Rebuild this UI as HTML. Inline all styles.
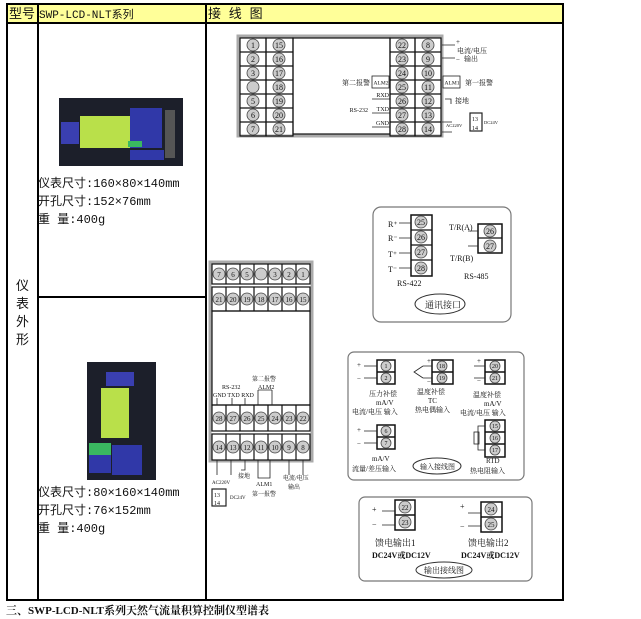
<!DOCTYPE html>
<html><head><meta charset="utf-8"><style>
body{margin:0;background:#fff;width:641px;height:619px;overflow:hidden}
svg{display:block}
text{font-family:"Liberation Serif","Noto Serif CJK SC",serif;fill:#111}
.s{font-family:"Liberation Mono","Noto Sans CJK SC",sans-serif;font-size:12px}
.n{font-size:8px;text-anchor:middle;font-family:"Liberation Sans",sans-serif}
.t{font-size:7px}
.c{fill:#ccc;stroke:#444;stroke-width:.8}
.b{fill:none;stroke:#111;stroke-width:1.2}
</style></head><body>
<svg width="641" height="619" viewBox="0 0 641 619" xmlns="http://www.w3.org/2000/svg">
<rect x="7" y="4" width="556" height="19" fill="#ffff99"/>
<rect x="7" y="4" width="556" height="596" fill="none" stroke="#000" stroke-width="2"/>
<line x1="7" y1="23" x2="563" y2="23" stroke="#000" stroke-width="2"/>
<line x1="38" y1="4" x2="38" y2="600" stroke="#000" stroke-width="2"/>
<line x1="206" y1="4" x2="206" y2="600" stroke="#000" stroke-width="2"/>
<line x1="38" y1="297" x2="206" y2="297" stroke="#000" stroke-width="2"/>
<text x="9" y="18" class="s" style="font-size:13px">型号</text>
<text x="39" y="18" class="s" style="font-size:11px">SWP-LCD-NLT系列</text>
<text x="208" y="18" class="s" style="font-size:13px">接 线 图</text>
<text x="16" y="290" class="s" style="font-size:13px">仪</text>
<text x="16" y="308" class="s" style="font-size:13px">表</text>
<text x="16" y="326" class="s" style="font-size:13px">外</text>
<text x="16" y="344" class="s" style="font-size:13px">形</text>
<rect x="59" y="98" width="124" height="68" fill="#1c1f2a"/>
<rect x="61" y="122" width="18" height="22" fill="#3a3fb0"/>
<rect x="80" y="116" width="50" height="32" fill="#b9e04a"/>
<rect x="130" y="108" width="32" height="40" fill="#3038a8"/>
<rect x="128" y="141" width="14" height="6" fill="#3ab860"/>
<rect x="130" y="150" width="34" height="10" fill="#3038a8"/>
<rect x="165" y="110" width="10" height="48" fill="#555"/>
<text x="38" y="187" class="s">仪表尺寸:160×80×140mm</text>
<text x="38" y="205" class="s">开孔尺寸:152×76mm</text>
<text x="38" y="223" class="s">重 量:400g</text>
<rect x="87" y="362" width="69" height="118" fill="#1c1f2a"/>
<rect x="106" y="372" width="28" height="14" fill="#3a3fb0"/>
<rect x="101" y="388" width="28" height="50" fill="#b9e04a"/>
<rect x="89" y="443" width="22" height="12" fill="#3ab860"/>
<rect x="89" y="455" width="22" height="18" fill="#3038a8"/>
<rect x="112" y="445" width="30" height="30" fill="#3038a8"/>
<text x="38" y="496" class="s">仪表尺寸:80×160×140mm</text>
<text x="38" y="514" class="s">开孔尺寸:76×152mm</text>
<text x="38" y="532" class="s">重 量:400g</text>
<text x="6" y="614" style="font-size:11px;font-weight:bold">三、SWP-LCD-NLT系列天然气流量积算控制仪型谱表</text>

<rect x="238" y="36" width="204" height="100" fill="#fff" stroke="#aaa" stroke-width="3"/>
<g class="b">
<rect x="240" y="38" width="26" height="98"/><rect x="266" y="38" width="27" height="98"/>
<rect x="293" y="38" width="97" height="96"/>
<rect x="390" y="38" width="25" height="98"/><rect x="415" y="38" width="26" height="98"/>
<path d="M240 52H293M240 66H293M240 80H293M240 94H293M240 108H293M240 122H293M390 52H441M390 66H441M390 80H441M390 94H441M390 108H441M390 122H441"/>
</g>
<g class="c">
<circle cx="253" cy="45" r="6"/><circle cx="253" cy="59" r="6"/><circle cx="253" cy="73" r="6"/><circle cx="253" cy="87" r="6"/><circle cx="253" cy="101" r="6"/><circle cx="253" cy="115" r="6"/><circle cx="253" cy="129" r="6"/>
<circle cx="279" cy="45" r="6"/><circle cx="279" cy="59" r="6"/><circle cx="279" cy="73" r="6"/><circle cx="279" cy="87" r="6"/><circle cx="279" cy="101" r="6"/><circle cx="279" cy="115" r="6"/><circle cx="279" cy="129" r="6"/>
<circle cx="402" cy="45" r="6"/><circle cx="402" cy="59" r="6"/><circle cx="402" cy="73" r="6"/><circle cx="402" cy="87" r="6"/><circle cx="402" cy="101" r="6"/><circle cx="402" cy="115" r="6"/><circle cx="402" cy="129" r="6"/>
<circle cx="428" cy="45" r="6"/><circle cx="428" cy="59" r="6"/><circle cx="428" cy="73" r="6"/><circle cx="428" cy="87" r="6"/><circle cx="428" cy="101" r="6"/><circle cx="428" cy="115" r="6"/><circle cx="428" cy="129" r="6"/>
</g>
<g class="n">
<text x="253" y="48">1</text><text x="253" y="62">2</text><text x="253" y="76">3</text><text x="253" y="104">5</text><text x="253" y="118">6</text><text x="253" y="132">7</text>
<text x="279" y="48">15</text><text x="279" y="62">16</text><text x="279" y="76">17</text><text x="279" y="90">18</text><text x="279" y="104">19</text><text x="279" y="118">20</text><text x="279" y="132">21</text>
<text x="402" y="48">22</text><text x="402" y="62">23</text><text x="402" y="76">24</text><text x="402" y="90">25</text><text x="402" y="104">26</text><text x="402" y="118">27</text><text x="402" y="132">28</text>
<text x="428" y="48">8</text><text x="428" y="62">9</text><text x="428" y="76">10</text><text x="428" y="90">11</text><text x="428" y="104">12</text><text x="428" y="118">13</text><text x="428" y="132">14</text>
</g>
<g stroke="#222" stroke-width=".8" fill="none">
<path d="M442 45H455M442 58H455M442 122H452M442 132H452M445 99H451V104M372 99H390M372 113H390M372 127H390"/>
<rect x="372" y="76" width="17" height="12"/><rect x="443" y="76" width="17" height="12"/>
<rect x="470" y="113" width="12" height="18" stroke-width="1.2"/>
</g>
<g class="t">
<text x="456" y="44">+</text><text x="457" y="53">电流/电压</text><text x="464" y="61">输出</text><text x="456" y="62">−</text>
<text x="444.5" y="84.5" style="font-size:5.5px">ALM1</text><text x="465" y="85">第一报警</text>
<text x="373.5" y="84.5" style="font-size:5.5px">ALM2</text><text x="370" y="85" text-anchor="end">第二报警</text>
<text x="455" y="103">接地</text>
<g style="font-size:6px" text-anchor="end"><text x="389" y="97">RXD</text><text x="368" y="112">RS-232</text><text x="389" y="111">TXD</text><text x="389" y="125">GND</text></g>
<text x="446" y="127" style="font-size:4.5px">AC220V</text><text x="484" y="124" style="font-size:4.5px">DC24V</text>
<text x="472" y="121" style="font-size:6px">13</text><text x="472" y="130" style="font-size:6px">14</text>
</g>

<rect x="373" y="207" width="138" height="115" rx="8" fill="none" stroke="#777" stroke-width="1.2"/>
<g class="b"><rect x="411" y="215" width="21" height="61" stroke-width="1.5"/><path d="M411 230H432M411 245H432M411 260H432"/>
<rect x="478" y="224" width="24" height="29" stroke-width="1.5"/><path d="M478 238H502"/></g>
<g class="c"><circle cx="421" cy="222" r="6"/><circle cx="421" cy="237" r="6"/><circle cx="421" cy="252" r="6"/><circle cx="421" cy="268" r="6"/><circle cx="490" cy="231" r="6"/><circle cx="490" cy="246" r="6"/></g>
<g class="n"><text x="421" y="225">25</text><text x="421" y="240">26</text><text x="421" y="255">27</text><text x="421" y="271">28</text><text x="490" y="234">26</text><text x="490" y="249">27</text></g>
<g stroke="#222" stroke-width=".8"><path d="M399 223H411M399 238H411M399 253H411M399 268H411M468 231H478M468 246H478"/></g>
<g class="t" style="font-size:8px">
<text x="388" y="227">R⁺</text><text x="388" y="241">R⁻</text><text x="388" y="257">T⁺</text><text x="388" y="272">T⁻</text>
<text x="449" y="230">T/R(A)</text><text x="450" y="261">T/R(B)</text><text x="464" y="279">RS-485</text><text x="397" y="286">RS-422</text>
</g>
<ellipse cx="440" cy="304" rx="25" ry="10" fill="none" stroke="#333"/>
<text x="425" y="308" style="font-size:9px">通讯接口</text>

<rect x="210" y="262" width="102" height="199" fill="#fff" stroke="#aaa" stroke-width="3"/>
<g class="b">
<rect x="212" y="264" width="98" height="20"/><rect x="212" y="287" width="98" height="24"/>
<rect x="212" y="311" width="98" height="94"/>
<rect x="212" y="405" width="98" height="26"/><rect x="212" y="434" width="98" height="26"/>
<path d="M226 264V284M240 264V284M254 264V284M268 264V284M282 264V284M296 264V284M226 287V311M240 287V311M254 287V311M268 287V311M282 287V311M296 287V311M226 405V431M240 405V431M254 405V431M268 405V431M282 405V431M296 405V431M226 434V460M240 434V460M254 434V460M268 434V460M282 434V460M296 434V460"/>
</g>
<g class="c">
<circle cx="219" cy="274" r="6"/><circle cx="233" cy="274" r="6"/><circle cx="247" cy="274" r="6"/><circle cx="261" cy="274" r="6"/><circle cx="275" cy="274" r="6"/><circle cx="289" cy="274" r="6"/><circle cx="303" cy="274" r="6"/>
<circle cx="219" cy="299" r="6"/><circle cx="233" cy="299" r="6"/><circle cx="247" cy="299" r="6"/><circle cx="261" cy="299" r="6"/><circle cx="275" cy="299" r="6"/><circle cx="289" cy="299" r="6"/><circle cx="303" cy="299" r="6"/>
<circle cx="219" cy="418" r="6"/><circle cx="233" cy="418" r="6"/><circle cx="247" cy="418" r="6"/><circle cx="261" cy="418" r="6"/><circle cx="275" cy="418" r="6"/><circle cx="289" cy="418" r="6"/><circle cx="303" cy="418" r="6"/>
<circle cx="219" cy="447" r="6"/><circle cx="233" cy="447" r="6"/><circle cx="247" cy="447" r="6"/><circle cx="261" cy="447" r="6"/><circle cx="275" cy="447" r="6"/><circle cx="289" cy="447" r="6"/><circle cx="303" cy="447" r="6"/>
</g>
<g class="n" style="font-size:7px">
<text x="219" y="277">7</text><text x="233" y="277">6</text><text x="247" y="277">5</text><text x="275" y="277">3</text><text x="289" y="277">2</text><text x="303" y="277">1</text>
<text x="219" y="302">21</text><text x="233" y="302">20</text><text x="247" y="302">19</text><text x="261" y="302">18</text><text x="275" y="302">17</text><text x="289" y="302">16</text><text x="303" y="302">15</text>
<text x="219" y="421">28</text><text x="233" y="421">27</text><text x="247" y="421">26</text><text x="261" y="421">25</text><text x="275" y="421">24</text><text x="289" y="421">23</text><text x="303" y="421">22</text>
<text x="219" y="450">14</text><text x="233" y="450">13</text><text x="247" y="450">12</text><text x="261" y="450">11</text><text x="275" y="450">10</text><text x="289" y="450">9</text><text x="303" y="450">8</text>
</g>
<g stroke="#222" stroke-width=".8" fill="none">
<path d="M217 398V405M232 398V405M245 398V405M258 390V405M272 390V405M258 390H272"/>
<path d="M217 460V475M231 460V475M245 460V470H241M258 460V478H270V460M289 460V475M303 460V475"/>
<rect x="212" y="489" width="14" height="17" stroke-width="1.2"/>
</g>
<g class="t" style="font-size:6px">
<text x="222" y="389">RS-232</text><text x="213" y="397">GND TXD RXD</text><text x="252" y="381">第二报警</text><text x="258" y="389">ALM2</text>
<text x="212" y="484" style="font-size:5px">AC220V</text><text x="238" y="478">接地</text><text x="256" y="486">ALM1</text><text x="252" y="496">第一报警</text>
<text x="283" y="480">电流/电压</text><text x="288" y="489">输出</text>
<text x="214" y="497">13</text><text x="214" y="505">14</text><text x="230" y="499" style="font-size:5px">DC24V</text>
</g>

<rect x="348" y="352" width="176" height="128" rx="6" fill="none" stroke="#777" stroke-width="1.2"/>
<g class="b" style="stroke-width:1.5">
<rect x="377" y="360" width="18" height="24"/><path d="M377 372H395"/>
<rect x="432" y="360" width="21" height="24"/><path d="M432 372H453"/>
<rect x="485" y="360" width="20" height="24"/><path d="M485 372H505"/>
<rect x="377" y="425" width="18" height="24"/><path d="M377 437H395"/>
<rect x="485" y="420" width="20" height="37"/><path d="M485 432H505M485 444H505"/>
</g>
<g class="c">
<circle cx="386" cy="366" r="5"/><circle cx="386" cy="378" r="5"/><circle cx="442" cy="366" r="5"/><circle cx="442" cy="378" r="5"/>
<circle cx="495" cy="366" r="5"/><circle cx="495" cy="378" r="5"/><circle cx="386" cy="431" r="5"/><circle cx="386" cy="443" r="5"/>
<circle cx="495" cy="426" r="5"/><circle cx="495" cy="438" r="5"/><circle cx="495" cy="450" r="5"/>
</g>
<g class="n" style="font-size:6px">
<text x="386" y="368">1</text><text x="386" y="380">2</text><text x="442" y="368">18</text><text x="442" y="380">19</text>
<text x="495" y="368">20</text><text x="495" y="380">21</text><text x="386" y="433">6</text><text x="386" y="445">7</text>
<text x="495" y="428">15</text><text x="495" y="440">16</text><text x="495" y="452">17</text>
</g>
<g stroke="#222" stroke-width=".8" fill="none">
<path d="M364 366H377M364 378H377M423 366H432M423 378H432M423 366L414 372L423 378M474 366H485M474 378H485M364 431H377M364 443H377M485 426H478V450H485"/>
<rect x="474" y="432" width="5" height="12"/>
</g>
<g class="t" style="font-size:7px">
<text x="357" y="367">+</text><text x="357" y="381">−</text><text x="427" y="363">+</text><text x="427" y="384">−</text><text x="477" y="363">+</text><text x="477" y="383">−</text>
<text x="369" y="396">压力补偿</text><text x="376" y="405">mA/V</text><text x="352" y="414">电流/电压 输入</text>
<text x="417" y="394">温度补偿</text><text x="428" y="403">TC</text><text x="415" y="412">热电偶输入</text>
<text x="473" y="397">温度补偿</text><text x="484" y="406">mA/V</text><text x="460" y="415">电流/电压 输入</text>
<text x="357" y="432">+</text><text x="357" y="446">−</text>
<text x="372" y="461">mA/V</text><text x="352" y="471">流量/差压输入</text>
<text x="486" y="463">RTD</text><text x="470" y="473">热电阻输入</text>
</g>
<ellipse cx="437" cy="466" rx="24" ry="8" fill="none" stroke="#333"/>
<text x="420" y="469" style="font-size:7px">输入接线图</text>

<rect x="359" y="497" width="173" height="84" rx="6" fill="none" stroke="#777" stroke-width="1.2"/>
<g class="b" style="stroke-width:1.5">
<rect x="395" y="500" width="20" height="30"/><path d="M395 515H415"/>
<rect x="481" y="502" width="21" height="30"/><path d="M481 517H502"/>
</g>
<g class="c"><circle cx="405" cy="507" r="6"/><circle cx="405" cy="522" r="6"/><circle cx="491" cy="509" r="6"/><circle cx="491" cy="524" r="6"/></g>
<g class="n" style="font-size:7px"><text x="405" y="510">22</text><text x="405" y="525">23</text><text x="491" y="512">24</text><text x="491" y="527">25</text></g>
<g stroke="#222" stroke-width=".8"><path d="M382 511H395M382 525H395M468 513H481M468 526H481"/></g>
<g class="t" style="font-size:8px">
<text x="372" y="512">+</text><text x="372" y="527">−</text><text x="460" y="509">+</text><text x="460" y="529">−</text>
<text x="375" y="546" style="font-size:9px">馈电输出1</text><text x="372" y="558" style="font-size:8px;font-weight:bold">DC24V或DC12V</text>
<text x="468" y="546" style="font-size:9px">馈电输出2</text><text x="461" y="558" style="font-size:8px;font-weight:bold">DC24V或DC12V</text>
</g>
<ellipse cx="444" cy="570" rx="28" ry="8" fill="none" stroke="#333"/>
<text x="424" y="573" style="font-size:8px">输出接线图</text>
</svg>
</body></html>
